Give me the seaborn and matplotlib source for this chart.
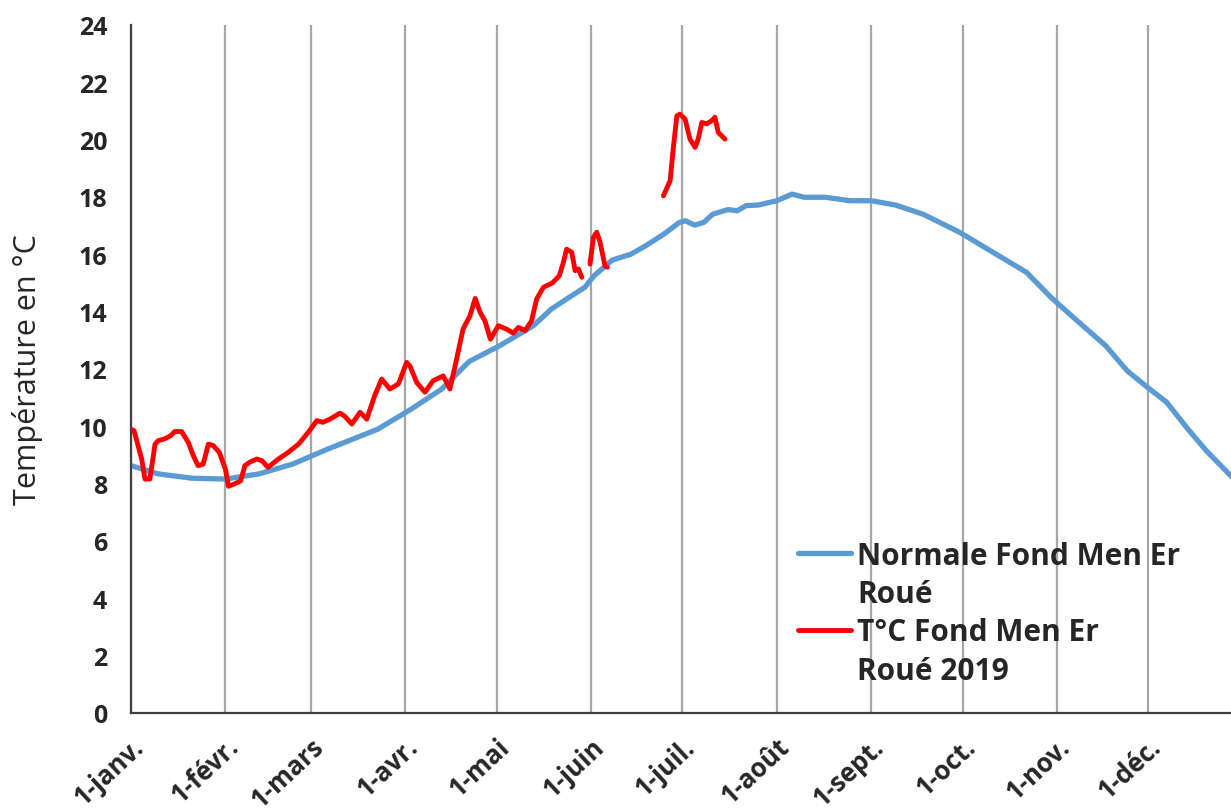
import pandas as pd
import seaborn as sns
import matplotlib.pyplot as plt
from matplotlib.lines import Line2D

# Normale (day of year, temperature)
normal_day = [0, 9, 20, 31, 42, 53, 64, 81, 92, 102, 111, 121, 132, 138, 143, 149, 152,
              158, 164, 169, 175, 180, 182, 185, 188, 191, 196, 199, 202, 206, 212, 217,
              221, 228, 236, 243, 251, 260, 272, 283, 294, 302, 310, 320, 327, 333, 340,
              347, 353, 361, 365]
normal_temp = [8.63, 8.34, 8.19, 8.16, 8.34, 8.68, 9.18, 9.9, 10.6, 11.3, 12.26, 12.81,
               13.5, 14.09, 14.44, 14.85, 15.25, 15.8, 16.0, 16.3, 16.71, 17.11, 17.17,
               17.02, 17.11, 17.4, 17.56, 17.52, 17.7, 17.72, 17.87, 18.1, 17.99, 17.99,
               17.87, 17.87, 17.72, 17.4, 16.77, 16.07, 15.37, 14.5, 13.74, 12.81, 11.94,
               11.42, 10.84, 9.9, 9.15, 8.28, 7.8]

# 2019 measurements, three pieces separated by gaps
y2019_day = [0, 1, 3.5, 4.6, 6.2, 7.9, 9, 11, 13, 14.4, 16.6, 18.8, 20.5, 22, 23.7, 25.4,
             27, 29, 31, 32, 34, 36, 37.4, 39, 41.3, 43, 45, 48.4, 51.6, 55, 58.2, 61, 63,
             65.3, 68.6, 70.3, 72.5, 75.2, 77.4, 80, 82.3, 85, 87.8, 90.5, 91.6, 93.8,
             96.5, 99.2, 102.5, 104.7, 106.6, 109, 111.3, 113, 114.6, 116.2, 118, 120.6,
             123.3, 125.5, 127.2, 129.4, 131.5, 133.2, 135.4, 138.3, 140.6, 141.9, 143,
             144.7, 145.8, 146.9, 148,
             150.7, 151.8, 152.9, 154, 155.6, 156.4,
             174.8, 177, 178, 179.2, 180.2, 181.9, 183.5, 185.2, 186.2, 187.4, 189, 190.6,
             191.7, 192.8, 195]
y2019_temp = [9.9, 9.85, 8.86, 8.16, 8.16, 9.38, 9.5, 9.56, 9.67, 9.82, 9.82, 9.44, 8.97,
              8.63, 8.68, 9.38, 9.33, 9.09, 8.51, 7.91, 7.99, 8.1, 8.63, 8.75, 8.86, 8.8,
              8.57, 8.86, 9.09, 9.38, 9.79, 10.2, 10.14, 10.25, 10.46, 10.34, 10.08, 10.49,
              10.25, 11.07, 11.65, 11.3, 11.48, 12.23, 12.1, 11.53, 11.19, 11.59, 11.76,
              11.3, 12.2, 13.39, 13.86, 14.46, 13.98, 13.68, 13.04, 13.51, 13.39, 13.25,
              13.45, 13.34, 13.68, 14.45, 14.85, 15.0, 15.25, 15.7, 16.18, 16.07, 15.43,
              15.49, 15.2,
              15.66, 16.59, 16.77, 16.42, 15.6, 15.55,
              18.04, 18.57, 19.67, 20.83, 20.89, 20.72, 20.02, 19.73, 20.02, 20.6, 20.55,
              20.66, 20.78, 20.25, 20.02]
y2019_seg = [1] * 73 + [2] * 6 + [3] * 15

month_days = [0, 31, 59, 90, 120, 151, 181, 212, 243, 273, 304, 334]
month_labels = ['1-janv.', '1-févr.', '1-mars', '1-avr.', '1-mai', '1-juin',
                '1-juil.', '1-août', '1-sept.', '1-oct.', '1-nov.', '1-déc.']

normal = pd.DataFrame({'day': normal_day, 'temp': normal_temp})
obs = pd.DataFrame({'day': y2019_day, 'temp': y2019_temp, 'seg': y2019_seg})

sns.set_style('white')
plt.rcParams['font.family'] = ['Open Sans', 'DejaVu Sans']

blue = '#5B9BD5'
red = '#FF0000'

fig = plt.figure(figsize=(12.31, 8.12), dpi=100)
ax = fig.add_axes([0.1064, 0.1207, 0.9032, 0.8473])

sns.lineplot(data=normal, x='day', y='temp', color=blue, linewidth=3.8, ax=ax)
sns.lineplot(data=obs, x='day', y='temp', units='seg', estimator=None,
             color=red, linewidth=3.5, ax=ax)

ax.set_xlim(0, 365)
ax.set_ylim(0, 24)
ax.set_xticks(month_days)
ax.set_xticklabels(month_labels, rotation=43, ha='right', va='top',
                   rotation_mode='anchor', fontsize=18.5, fontweight='bold')
ax.set_yticks(range(0, 25, 2))
ax.set_yticklabels([str(v) for v in range(0, 25, 2)], fontsize=18, fontweight='bold')
ax.tick_params(axis='y', length=8, width=1.5, color='#404040', pad=9)
ax.tick_params(axis='x', length=0, pad=14)
ax.xaxis.grid(True, color='#A6A6A6', linewidth=1.6)
ax.yaxis.grid(False)
sns.despine(ax=ax, top=True, right=True)
for s in ['left', 'bottom']:
    ax.spines[s].set_color('#404040')
    ax.spines[s].set_linewidth(1.6)

ax.set_xlabel('')
ax.set_ylabel('Température en °C', fontsize=22)
ax.yaxis.set_label_coords(-0.079, 0.5)

# wrapped legend labels: second lines as blank-handle entries
blank = Line2D([0], [0], color='none')
handles = [Line2D([0], [0], color=blue, linewidth=3.8), blank,
           Line2D([0], [0], color=red, linewidth=3.5), blank]
labels = ['Normale Fond Men Er', 'Roué', 'T°C Fond Men Er', 'Roué 2019']
ax.legend(handles, labels, loc='upper left', bbox_to_anchor=(0.648, 0.333),
          bbox_transform=fig.transFigure, frameon=False, borderpad=0, borderaxespad=0,
          prop={'size': 21.5, 'weight': 'bold'}, handlelength=1.8,
          handletextpad=0.2, labelspacing=0.28)

fig.savefig('out.png', dpi=100)
